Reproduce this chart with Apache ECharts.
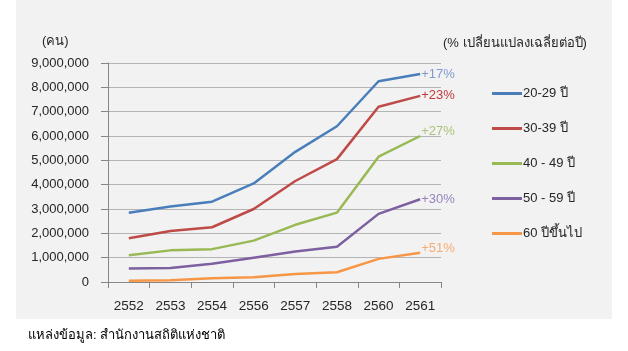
<!DOCTYPE html>
<html>
<head>
<meta charset="utf-8">
<script src="https://cdn.jsdelivr.net/npm/echarts@6/dist/echarts.min.js"></script>
<style>
  html, body { margin: 0; padding: 0; background: #fff; }
  #chart { width: 628px; height: 351px; }
</style>
</head>
<body>
<div id="chart"></div>
<script>
var years = ['2552', '2553', '2554', '2556', '2557', '2558', '2560', '2561'];
var groups = ['20-29 ปี', '30-39 ปี', '40 - 49 ปี', '50 - 59 ปี', '60 ปีขึ้นไป'];
var age20 = [2850000, 3100000, 3300000, 4050000, 5350000, 6400000, 8250000, 8550000];
var age30 = [1800000, 2100000, 2250000, 3000000, 4150000, 5050000, 7200000, 7650000];
var age40 = [1100000, 1300000, 1350000, 1700000, 2350000, 2850000, 5150000, 6000000];
var age50 = [550000, 580000, 750000, 1000000, 1250000, 1450000, 2800000, 3400000];
var age60 = [50000, 70000, 150000, 200000, 330000, 400000, 950000, 1200000];
var growth = ['+17%', '+23%', '+27%', '+30%', '+51%'];

var lineColors = ['#4a7ebb', '#be4b48', '#98b954', '#7d60a0', '#f79646'];
var labelColors = ['#7f9ccc', '#c0393b', '#a9c47a', '#9683bd', '#f6ab72'];
var labelShift = [0, 0, -5, 0, -4];
var allData = [age20, age30, age40, age50, age60];

var font = "'Liberation Sans', Arial, sans-serif";

var series = [];
for (var i = 0; i < groups.length; i++) {
    series.push({
        name: groups[i],
        type: 'line',
        data: allData[i],
        showSymbol: false,
        symbol: 'none',
        lineStyle: { width: 2.5, color: lineColors[i] },
        itemStyle: { color: lineColors[i] },
        endLabel: {
            show: true,
            formatter: growth[i],
            color: labelColors[i],
            fontSize: 13,
            fontFamily: font,
            distance: 1,
            offset: [0, labelShift[i]]
        }
    });
}

var chart = echarts.init(document.getElementById('chart'));
chart.setOption({
    animation: false,
    backgroundColor: '#fff',
    graphic: [
        { type: 'rect', z: -10, shape: { x: 16, y: 0, width: 596, height: 319 }, style: { fill: '#f2f2f2' } },
        { type: 'text', left: 42, top: 35, style: { text: '(คน)', font: '13px ' + font, fill: '#262626' } },
        { type: 'text', left: 443, top: 37, style: { text: '(% เปลี่ยนแปลงเฉลี่ยต่อปี)', font: '13px ' + font, fill: '#262626' } },
        { type: 'text', left: 28, top: 329, style: { text: 'แหล่งข้อมูล: สำนักงานสถิติแห่งชาติ', font: '13px ' + font, fill: '#000' } }
    ],
    legend: {
        orient: 'vertical',
        left: 492,
        top: 86,
        padding: 0,
        icon: 'rect',
        itemWidth: 30,
        itemHeight: 3,
        itemGap: 20,
        data: groups,
        textStyle: { fontSize: 13, fontFamily: font, color: '#262626', lineHeight: 15, padding: [0, 0, 0, -4] }
    },
    grid: { left: 108, right: 187, top: 63, bottom: 69 },
    xAxis: {
        type: 'category',
        data: years,
        boundaryGap: true,
        axisLine: { lineStyle: { color: '#868686', width: 1 } },
        axisTick: { show: true, length: 6, lineStyle: { color: '#868686' } },
        axisLabel: { fontSize: 13.5, fontFamily: font, color: '#262626', margin: 17 }
    },
    yAxis: {
        type: 'value',
        min: 0,
        max: 9000000,
        interval: 1000000,
        axisLine: { show: true, lineStyle: { color: '#868686', width: 1 } },
        axisTick: { show: true, length: 7, lineStyle: { color: '#868686' } },
        splitLine: { lineStyle: { color: '#b4b4b4', width: 1 } },
        axisLabel: {
            fontSize: 13, fontFamily: font, color: '#262626', margin: 19,
            formatter: function (v) { return v.toLocaleString('en-US'); }
        }
    },
    series: series
});
</script>
</body>
</html>
